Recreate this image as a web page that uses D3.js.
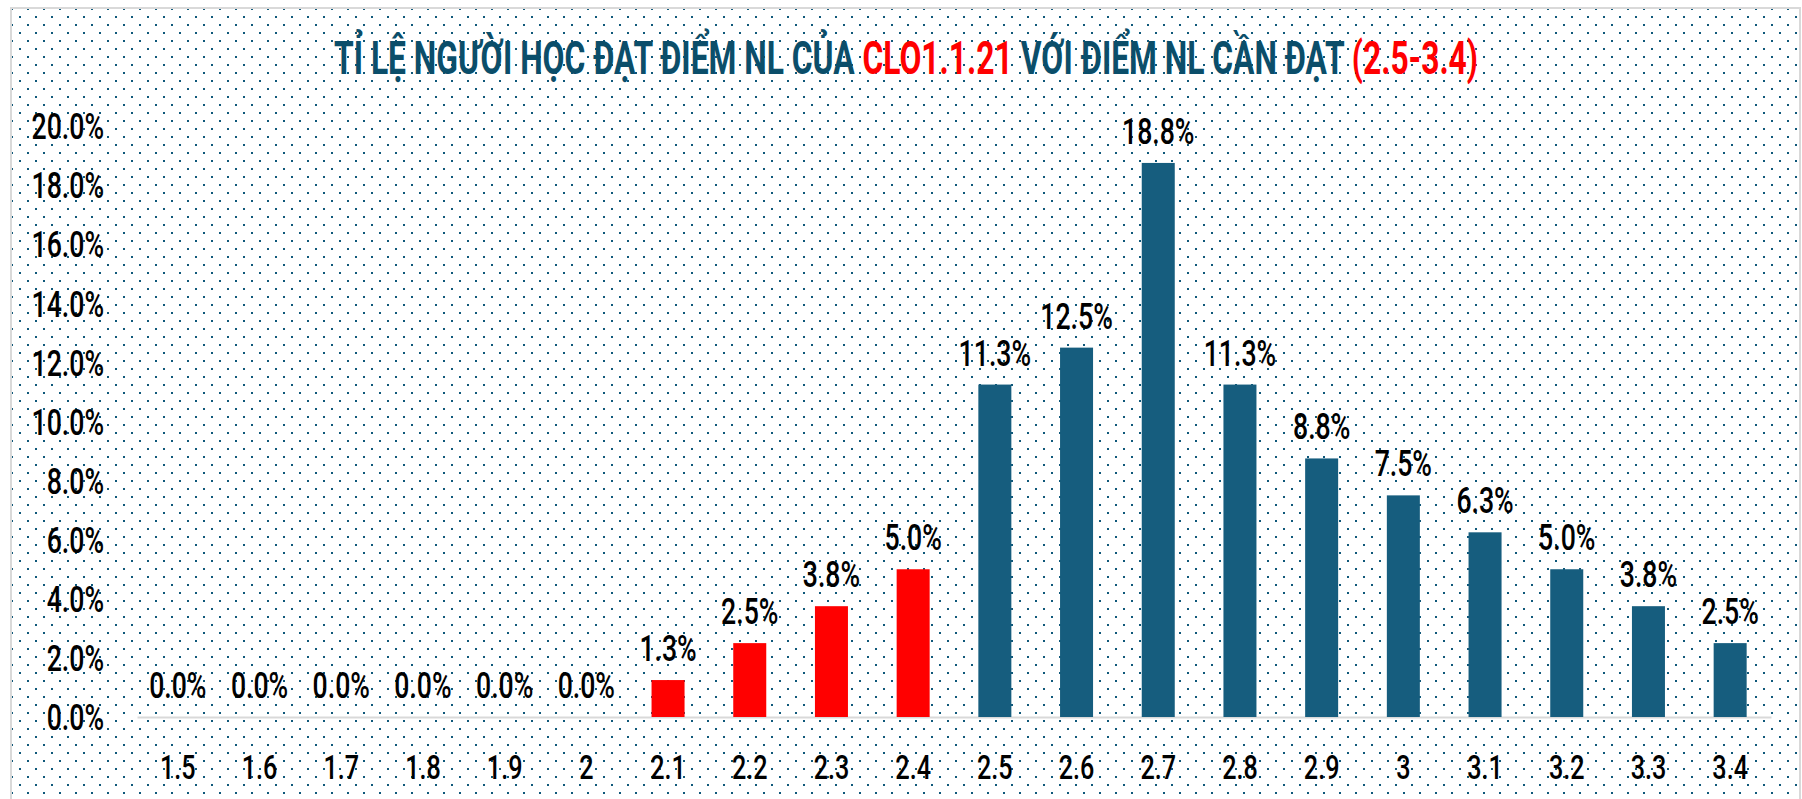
<!DOCTYPE html>
<html>
<head>
<meta charset="utf-8">
<script src="https://cdn.jsdelivr.net/npm/d3@7"></script>
<style>
  html, body { margin: 0; padding: 0; background: #fff; }
  svg { display: block; font-family: Roboto, "DejaVu Sans", sans-serif; }
</style>
</head>
<body>
<div id="chart"></div>
<script>
/* Ti le nguoi hoc dat diem NL - CLO1.1.21 */

// categories (diem NL) and share of learners (%)
var categories = ["1.5", "1.6", "1.7", "1.8", "1.9", "2", "2.1", "2.2", "2.3", "2.4",
                  "2.5", "2.6", "2.7", "2.8", "2.9", "3", "3.1", "3.2", "3.3", "3.4"];
var percents = [0, 0, 0, 0, 0, 0, 1.25, 2.5, 3.75, 5,
                11.25, 12.5, 18.75, 11.25, 8.75, 7.5, 6.25, 5, 3.75, 2.5];
var yTicks = [0, 2, 4, 6, 8, 10, 12, 14, 16, 18, 20];
var targetMin = 2.5;   // diem NL can dat: 2.5 - 3.4

var titleParts = [
  { text: "TỈ LỆ NGƯỜI HỌC ĐẠT ĐIỂM NL CỦA ", red: false },
  { text: "CLO1.1.21", red: true },
  { text: " VỚI ĐIỂM NL CẦN ĐẠT ", red: false },
  { text: "(2.5-3.4)", red: true }
];

var W = 1802, H = 799;
var plotLeft = 137, plotRight = 1771, plotTop = 126, plotBottom = 717;

var svg = d3.select("#chart").append("svg")
    .attr("width", W)
    .attr("height", H);

//* dotted background *//
var pat = svg.append("defs").append("pattern")
    .attr("id", "dots")
    .attr("patternUnits", "userSpaceOnUse")
    .attr("width", 16).attr("height", 16);
pat.append("rect").attr("x", 11).attr("y", 8).attr("width", 2).attr("height", 2).attr("fill", "#0f587a");
pat.append("rect").attr("x", 3).attr("y", 0).attr("width", 2).attr("height", 2).attr("fill", "#0f587a");

svg.append("rect")
    .attr("x", 11).attr("y", 8)
    .attr("width", 1789).attr("height", 820)
    .attr("fill", "url(#dots)")
    .attr("stroke", "#d9d9d9")
    .attr("stroke-width", 2);

// squeeze text horizontally to mimic the condensed font
function squeeze(sel, factor) {
  sel.each(function() {
    var w = this.getComputedTextLength();
    this.setAttribute("textLength", w * factor);
    this.setAttribute("lengthAdjust", "spacingAndGlyphs");
  });
}

//* scales *//
var x = d3.scaleBand()
    .domain(categories)
    .range([plotLeft, plotRight])
    .paddingInner(0.596)
    .paddingOuter(0.298);

var y = d3.scaleLinear()
    .domain([0, 20])
    .range([plotBottom, plotTop]);

var color = d3.scaleThreshold()
    .domain([targetMin])
    .range(["#ff0000", "#165d7e"]);

//* axes *//
var yAxis = svg.append("g")
    .attr("class", "y axis")
    .attr("transform", "translate(" + plotLeft + ",0)")
    .call(d3.axisLeft(y).tickValues(yTicks).tickSize(0).tickPadding(33)
      .tickFormat(function(d) { return d.toFixed(1) + "%"; }));
yAxis.select(".domain").remove();
yAxis.selectAll("text")
    .attr("dy", "0.355em")
    .attr("font-size", 36)
    .attr("font-weight", 500)
    .attr("font-family", "Roboto, sans-serif")
    .attr("fill", "#000");
squeeze(yAxis.selectAll("text"), 0.74);

var xAxis = svg.append("g")
    .attr("class", "x axis")
    .attr("transform", "translate(0," + plotBottom + ")")
    .call(d3.axisBottom(x).tickSize(0).tickSizeOuter(0).tickPadding(38));
xAxis.select(".domain")
    .attr("stroke", "#d9d9d9")
    .attr("stroke-width", 2);
xAxis.selectAll("text")
    .attr("font-size", 34)
    .attr("font-weight", 500)
    .attr("font-family", "Roboto, sans-serif")
    .attr("fill", "#000");
squeeze(xAxis.selectAll("text"), 0.74);

//* bars *//
svg.append("g").selectAll("rect")
    .data(percents)
    .enter().append("rect")
    .attr("x", function(d, i) { return x(categories[i]); })
    .attr("y", function(d) { return y(d); })
    .attr("width", x.bandwidth())
    .attr("height", function(d) { return y(0) - y(d); })
    .attr("fill", function(d, i) { return color(+categories[i]); });

//* data labels *//
var labels = svg.append("g").selectAll("text")
    .data(percents)
    .enter().append("text")
    .attr("x", function(d, i) { return x(categories[i]) + x.bandwidth() / 2; })
    .attr("y", function(d) { return y(d) - 19; })
    .attr("text-anchor", "middle")
    .attr("font-size", 36)
    .attr("font-weight", 500)
    .attr("fill", "#000")
    .text(function(d) { return d.toFixed(1) + "%"; });
squeeze(labels, 0.74);

//* title *//
var title = svg.append("text")
    .attr("x", 334)
    .attr("y", 74)
    .attr("font-size", 47)
    .attr("font-weight", 700);
title.selectAll("tspan")
    .data(titleParts)
    .enter().append("tspan")
    .attr("fill", function(d) { return d.red ? "#ff0000" : "#0b4e6a"; })
    .style("white-space", "pre")
    .text(function(d) { return d.text; });
title.attr("textLength", 1144).attr("lengthAdjust", "spacingAndGlyphs");
</script>
</body>
</html>
